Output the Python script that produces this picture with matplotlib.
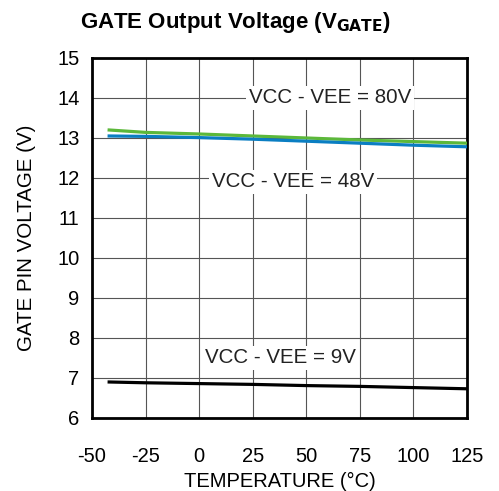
import matplotlib
matplotlib.use('Agg')
import matplotlib.pyplot as plt

plt.rcParams['font.family'] = ['Liberation Sans', 'DejaVu Sans']
plt.rcParams['axes.unicode_minus'] = False

# data
temp = [-42, -25, 0, 25, 50, 75, 100, 125]
v80 = [13.20, 13.14, 13.10, 13.05, 13.00, 12.95, 12.91, 12.87]
v48 = [13.05, 13.04, 13.01, 12.97, 12.92, 12.87, 12.82, 12.78]
v9 = [6.90, 6.88, 6.86, 6.84, 6.81, 6.79, 6.76, 6.73]

xticks = [-50, -25, 0, 25, 50, 75, 100, 125]
yticks = [6, 7, 8, 9, 10, 11, 12, 13, 14, 15]

fig = plt.figure(figsize=(4.99, 4.91), dpi=100)
ax = fig.add_axes([0.1844, 0.1487, 0.7515, 0.7332])

ax.plot(temp, v80, color='#5cb83a', lw=2.3, zorder=3)
ax.plot(temp, v48, color='#0a7ec2', lw=2.3, zorder=4)
ax.plot(temp, v9, color='black', lw=2.3, zorder=3)

# 曲线标注，白底遮住网格线
box = dict(facecolor='white', edgecolor='none', pad=2.0)
ax.text(61, 14.0, 'VCC - VEE = 80V', ha='center', va='center', fontsize=14.8, color='#222222', bbox=box, zorder=5)
ax.text(44, 11.9, 'VCC - VEE = 48V', ha='center', va='center', fontsize=14.8, color='#222222', bbox=box, zorder=5)
ax.text(38, 7.5, 'VCC - VEE = 9V', ha='center', va='center', fontsize=14.8, color='#222222', bbox=box, zorder=5)

ax.set_xlim(-50, 125)
ax.set_ylim(6, 15)
ax.set_xticks(xticks)
ax.set_yticks(yticks)
ax.tick_params(length=0, labelsize=14.5)
ax.tick_params(axis='x', pad=21)
ax.tick_params(axis='y', pad=9)
ax.grid(True, color='#555555', lw=0.8)
for s in ax.spines.values():
    s.set_linewidth(2)

ax.set_xlabel('TEMPERATURE (°C)', fontsize=14.5, labelpad=4)
ax.set_ylabel('GATE PIN VOLTAGE (V)', fontsize=14.8, labelpad=15)

fig.text(0.16, 0.955, r'GATE Output Voltage (V$_{\mathbf{GATE}}$)', fontsize=16,
         fontweight='bold', ha='left', va='center')

fig.savefig('out.png', dpi=100)
